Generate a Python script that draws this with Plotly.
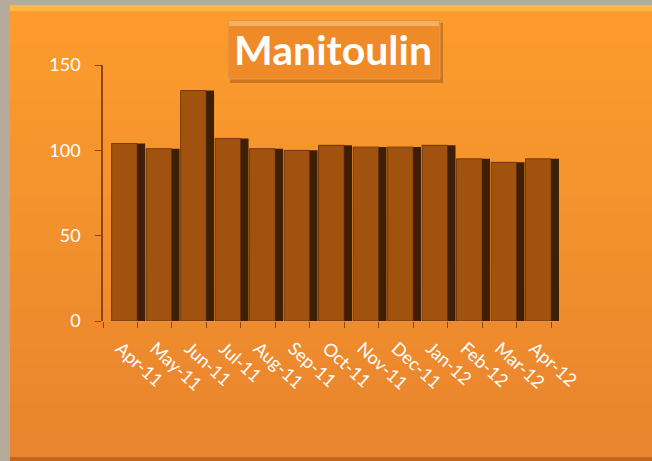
import plotly.graph_objects as go

months = ["Apr-11", "May-11", "Jun-11", "Jul-11", "Aug-11", "Sep-11", "Oct-11",
          "Nov-11", "Dec-11", "Jan-12", "Feb-12", "Mar-12", "Apr-12"]
values = [104, 101, 135, 107, 101, 100, 103, 102, 102, 103, 95, 93, 95]
y_ticks = [0, 50, 100, 150]
title_text = "Manitoulin"

W, H = 652, 461
L, R, T, B = 103, 92, 65, 140
pw, ph = W - L - R, H - T - B

def px_x(p):
    return (p - L) / pw

def px_y(p):
    return (H - B - p) / ph

def mix(c1, c2, t):
    return "rgb(%d,%d,%d)" % tuple(round(a + (b - a) * t) for a, b in zip(c1, c2))

fig = go.Figure()
# dark side of each column
fig.add_trace(go.Bar(x=months, y=values, width=0.97, offset=-0.25,
                     marker=dict(color="#3E1F06", line=dict(width=0)),
                     hoverinfo="skip", showlegend=False))
# front face
fig.add_trace(go.Bar(x=months, y=values, width=0.74, offset=-0.25,
                     marker=dict(color="#A1520F", line=dict(width=0.6, color="#5A2A06")),
                     showlegend=False))

shapes = []
# background vertical gradient
top_c, bot_c = (253, 156, 44), (232, 133, 46)
n = 24
y_start, y_end = 5, H
for i in range(n):
    a = y_start + (y_end - y_start) * i / n
    b = y_start + (y_end - y_start) * (i + 1) / n
    shapes.append(dict(type="rect", xref="paper", yref="paper", x0=px_x(10), x1=px_x(W),
                       y0=px_y(b + 0.5), y1=px_y(a), fillcolor=mix(top_c, bot_c, i / (n - 1)),
                       line=dict(width=0), layer="below"))
shapes += [
    # grey frame strips
    dict(type="rect", xref="paper", yref="paper", x0=px_x(0), x1=px_x(10), y0=px_y(H), y1=px_y(0),
         fillcolor="#B6AA9C", line=dict(width=0), layer="below"),
    dict(type="rect", xref="paper", yref="paper", x0=px_x(0), x1=px_x(W), y0=px_y(5), y1=px_y(0),
         fillcolor="#B6AA9C", line=dict(width=0), layer="below"),
    # top highlight
    dict(type="rect", xref="paper", yref="paper", x0=px_x(10), x1=px_x(W), y0=px_y(11), y1=px_y(5),
         fillcolor="#FFC04A", line=dict(width=0), layer="below", opacity=0.8),
    dict(type="rect", xref="paper", yref="paper", x0=px_x(10), x1=px_x(W), y0=px_y(H), y1=px_y(457),
         fillcolor="#C4651A", line=dict(width=0), layer="below"),
    # title box shadow
    dict(type="rect", xref="paper", yref="paper", x0=px_x(230), x1=px_x(443), y0=px_y(83), y1=px_y(23),
         fillcolor="rgba(150,75,10,0.45)", line=dict(width=0), layer="below"),
    # title box
    dict(type="rect", xref="paper", yref="paper", x0=px_x(228), x1=px_x(440), y0=px_y(79), y1=px_y(20),
         fillcolor="#EF8A28", line=dict(width=1, color="#E59A50"), layer="below"),
    dict(type="rect", xref="paper", yref="paper", x0=px_x(229), x1=px_x(439), y0=px_y(26), y1=px_y(21),
         fillcolor="#F8B060", line=dict(width=0), layer="below"),
]

fig.add_annotation(text="<b>" + title_text + "</b>", xref="paper", yref="paper",
                   x=px_x(333), y=px_y(49), xanchor="center", yanchor="middle", showarrow=False,
                   font=dict(family="Lato, Open Sans, sans-serif", size=41, color="white"))

fig.update_layout(
    width=W, height=H,
    margin=dict(l=L, r=R, t=T, b=B),
    paper_bgcolor="#F7931F",
    plot_bgcolor="rgba(0,0,0,0)",
    barmode="overlay",
    shapes=shapes,
    font=dict(family="Lato, Open Sans, sans-serif", color="white", size=17),
    xaxis=dict(showgrid=False, showline=True, linecolor="#8FA8B8", linewidth=1,
               ticks="outside", tickson="boundaries", ticklen=6, tickcolor="#8B4513",
               tickangle=42, tickfont=dict(size=18, color="white"), ticklabelstandoff=9,
               range=[-0.5, 12.75]),
    yaxis=dict(range=[0, 150], tickvals=y_ticks, showgrid=False, zeroline=False,
               showline=True, linecolor="#8B4513", linewidth=1.5,
               ticks="outside", ticklen=6, tickcolor="#8B4513",
               tickfont=dict(size=18, color="white"), ticklabelstandoff=11),
)

fig.write_html("out.html", config={"displayModeBar": False},
               post_script="document.body.style.margin='0px';")
